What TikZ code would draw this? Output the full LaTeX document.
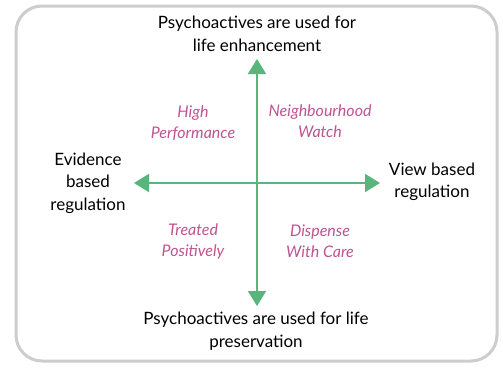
\documentclass[tikz,border=0pt]{standalone}
\usepackage{fontspec}
\setmainfont{Lato}
\usepackage{tikz}
\usetikzlibrary{arrows.meta}
\definecolor{axisgreen}{RGB}{88,182,124}
\definecolor{quadpink}{RGB}{190,84,146}
\definecolor{framegray}{RGB}{205,205,205}
\tikzset{
  axis/.style={draw=axisgreen, line width=2pt, -{Triangle[width=18pt,length=15pt]}},
  pole/.style={align=center, font=\fontsize{17}{22.5}\selectfont, inner sep=0pt},
  quadrant/.style={align=center, text=quadpink, font=\fontsize{16}{21}\itshape\selectfont, inner sep=0pt}
}
\begin{document}
\begin{tikzpicture}[x=1pt,y=-1pt]
        \useasboundingbox (0,0) rectangle (503,367);
        \fill[white] (0,0) rectangle (503,367);
        \draw[framegray, line width=3pt, rounded corners=26pt] (16,6) rectangle (497,361);
        % axes
        \coordinate (centre) at (257,183);
        \coordinate (north) at (257,59);
        \coordinate (south) at (257,306);
        \coordinate (west) at (134,183);
        \coordinate (east) at (380,183);
        \draw[axis] (centre) -- (north);
        \draw[axis] (centre) -- (south);
        \draw[axis] (centre) -- (west);
        \draw[axis] (centre) -- (east);
        % poles
        \node[pole] (enhance) at (257,34) {Psychoactives are used for\\life enhancement};
        \node[pole] (preserve) at (256,331) {Psychoactives are used for life\\preservation};
        \node[pole] (evidence) at (88,183) {Evidence\\based\\regulation};
        \node[pole] (view) at (432,182) {View based\\regulation};
        % quadrants
        \node[quadrant] (perform) at (193,123) {High\\Performance};
        \node[quadrant] (watch) at (320,121) {Neighbourhood\\Watch};
        \node[quadrant] (treated) at (193,241) {Treated\\Positively};
        \node[quadrant] (dispense) at (320,241) {Dispense\\With Care};
\end{tikzpicture}
\end{document}
